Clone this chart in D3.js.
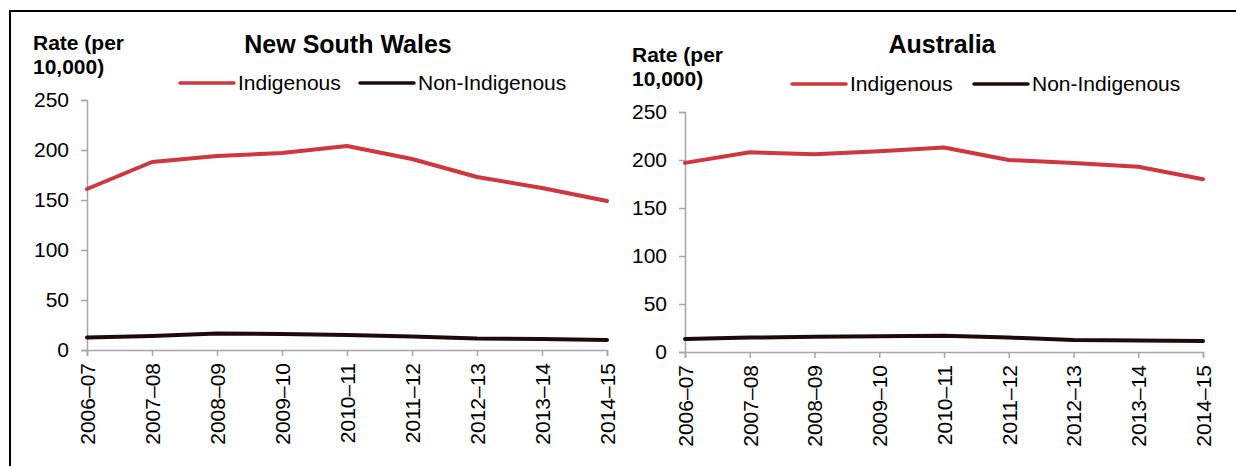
<!DOCTYPE html>
<html>
<head>
<meta charset="utf-8">
<script src="https://cdn.jsdelivr.net/npm/d3@7"></script>
<style>
  body { margin: 0; background: #fff; }
  svg text { font-family: "Liberation Sans", Arial, sans-serif; fill: #000; }
</style>
</head>
<body>
<div id="chart"></div>
<script>
// years along the x axis
var years = ["2006\u201307", "2007\u201308", "2008\u201309", "2009\u201310", "2010\u201311",
             "2011\u201312", "2012\u201313", "2013\u201314", "2014\u201315"];
var yTicks = [0, 50, 100, 150, 200, 250];

// rates per 10,000
var nswIndigenous = [161, 188, 194, 197, 204, 191, 173, 162, 149];
var nswNonIndigenous = [12.5, 14, 16.5, 16, 15, 13.5, 11.5, 11, 10];
var ausIndigenous = [197, 208, 206, 209, 213, 200, 197, 193, 180];
var ausNonIndigenous = [13.5, 15, 16, 16.5, 17, 15, 12.5, 12, 11.5];

var seriesNames = ["Indigenous", "Non-Indigenous"];
var colors = ["#cf363e", "#1e0a0d"];

var width = 1236, height = 466;

var svg = d3.select("#chart").append("svg")
  .attr("width", width)
  .attr("height", height);

// frame: top and left edge
svg.append("path")
  .attr("d", "M10,466 V11 H1236")
  .attr("fill", "none")
  .attr("stroke", "#000")
  .attr("stroke-width", 2);

function panel(opts, series){
  var g = svg.append("g");

  var x = d3.scalePoint().domain(years).range(opts.xr);
  var y = d3.scaleLinear().domain([0, 250]).range(opts.yr);

  // y axis
  var yAxis = g.append("g")
    .attr("transform", "translate(" + opts.xr[0] + ",0)")
    .call(d3.axisLeft(y).tickValues(yTicks).tickSize(6).tickPadding(12));
  // x axis
  var xAxis = g.append("g")
    .attr("transform", "translate(0," + opts.yr[0] + ")")
    .call(d3.axisBottom(x).tickSize(6).tickPadding(0));

  [yAxis, xAxis].forEach(function(a){
    a.select(".domain").attr("stroke", "#a6a6a6").attr("stroke-width", 1.5);
    a.selectAll(".tick line").attr("stroke", "#a6a6a6").attr("stroke-width", 1.5);
    a.selectAll("text").attr("font-size", 21).attr("font-family", null).attr("fill", "#000");
  });

  xAxis.selectAll(".tick text")
    .attr("text-anchor", "end")
    .attr("transform", "rotate(-90)")
    .attr("x", -13)
    .attr("y", 0)
    .attr("dy", "0.35em");

  // axis title in two lines
  var at = g.append("text")
    .attr("font-size", 21)
    .attr("font-weight", "bold");
  at.append("tspan").attr("x", opts.axisTitle[0]).attr("y", opts.axisTitle[1]).text("Rate (per");
  at.append("tspan").attr("x", opts.axisTitle[0]).attr("y", opts.axisTitle[1] + 24).text("10,000)");

  // chart title
  g.append("text")
    .attr("x", opts.title[0])
    .attr("y", opts.title[1])
    .attr("text-anchor", "middle")
    .attr("font-size", 25)
    .attr("font-weight", "bold")
    .text(opts.name);

  // lines
  var line = d3.line()
    .x(function(d, i){ return x(years[i]); })
    .y(function(d){ return y(d); });

  series.forEach(function(s, i){
    g.append("path")
      .datum(s)
      .attr("d", line)
      .attr("fill", "none")
      .attr("stroke", colors[i])
      .attr("stroke-width", 4)
      .attr("stroke-linejoin", "round")
      .attr("stroke-linecap", "round");
  });

  // legend
  var leg = g.append("g").selectAll("g")
    .data(seriesNames)
    .enter()
    .append("g")
    .attr("transform", function(d, i){ return "translate(" + opts.legend[i] + "," + opts.legendY + ")"; });
  leg.append("line")
    .attr("x1", 0).attr("x2", 54)
    .attr("stroke", function(d, i){ return colors[i]; })
    .attr("stroke-width", 3.5)
    .attr("stroke-linecap", "round");
  leg.append("text")
    .attr("x", 58)
    .attr("y", 7)
    .attr("font-size", 21)
    .text(function(d){ return d; });
}

panel({
  name: "New South Wales",
  xr: [87, 607], yr: [350, 100],
  axisTitle: [33, 50],
  title: [348, 53],
  legend: [180, 360], legendY: 83
}, [nswIndigenous, nswNonIndigenous]);

panel({
  name: "Australia",
  xr: [685, 1203], yr: [352, 112],
  axisTitle: [632, 62],
  title: [942, 53],
  legend: [792, 974], legendY: 84
}, [ausIndigenous, ausNonIndigenous]);
</script>
</body>
</html>
